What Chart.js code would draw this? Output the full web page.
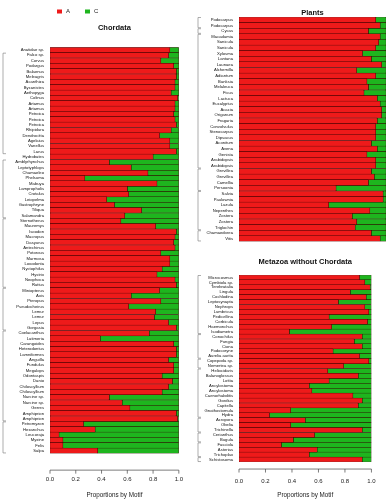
<!DOCTYPE html>
<html>
<head>
<meta charset="utf-8">
<script src="https://cdn.jsdelivr.net/npm/chart.js"></script>
<style>
  body { margin: 0; background: #fff; }
  #wrap { position: relative; width: 391px; height: 500px; overflow: hidden; }
  canvas { position: absolute; }
</style>
</head>
<body>
<div id="wrap">
  <canvas id="chordata" width="205" height="500" style="left:0;top:0;width:205px;height:500px"></canvas>
  <canvas id="plants" width="196" height="250" style="left:195px;top:0;width:196px;height:250px"></canvas>
  <canvas id="metazoa" width="196" height="250" style="left:195px;top:250px;width:196px;height:250px"></canvas>
</div>
<script>
// ---- data ----
var seriesNames = ["A", "C"];

var chordataLabels = ["Anatidae sp.", "Falco sp.", "Corvus", "Podargus", "Balaenus", "Meleagris", "Acanthiza", "Bycanistes",
  "Aethopyga", "Colinus", "Artamus", "Artamus", "Petroica", "Petroica", "Petroica", "Rhipidura", "Dendrocitta", "Agelaius",
  "Vanellus", "Larus", "Hydrobates", "Amblyrhynchus", "Leptotyphlops", "Chamaeleo", "Phelsuma", "Mabuya", "Lampropholis",
  "Crotalus", "Leiopelma", "Gastrophryne", "Tiliqua", "Salamandra", "Sternotherus", "Mauremys", "Isoodon", "Macropus",
  "Dasyurus", "Antechinus", "Potorous", "Marmosa", "Loxodonta", "Nyctophilus", "Hystrix", "Neophoca", "Rattus",
  "Miniopterus", "Axis", "Pteropus", "Pseudocheirus", "Lemur", "Lemur", "Lepus", "Gorgasia", "Coelacanthus", "Latimeria",
  "Carangoides", "Heterodontus", "Lamniformes", "Anguilla", "Fundulus", "Megalops", "Odontaspis", "Danio",
  "Chiloscyllium", "Chiloscyllium", "Narcine sp.", "Narcine sp.", "Gerres", "Amphiprion", "Amphiprion", "Petromyzon",
  "Hexanchus", "Leucoraja", "Myxine", "Felis", "Salpa"];
var chordataA = [0.93, 0.92, 0.86, 0.96, 0.98, 0.98, 0.97, 0.97, 0.94, 0.99, 0.97, 0.97, 0.96, 0.97, 0.98, 0.94, 0.85, 0.93,
  0.93, 0.98, 0.80, 0.46, 0.63, 0.76, 0.27, 0.83, 0.60, 0.61, 0.44, 0.50, 0.71, 0.58, 0.55, 0.82, 0.98, 0.97, 0.96, 0.97,
  0.86, 0.93, 0.93, 0.87, 0.83, 0.97, 0.98, 0.85, 0.63, 0.86, 0.61, 0.82, 0.81, 0.92, 0.98, 0.77, 0.39, 0.96, 0.98, 0.98,
  0.92, 0.96, 0.96, 0.87, 0.95, 0.92, 0.87, 0.46, 0.56, 0.62, 0.98, 0.99, 0.26, 0.35, 0.07, 0.10, 0.10, 0.37];
var chordataC = [0.07, 0.08, 0.14, 0.04, 0.02, 0.02, 0.03, 0.03, 0.06, 0.01, 0.03, 0.03, 0.04, 0.03, 0.02, 0.06, 0.15, 0.07,
  0.07, 0.02, 0.20, 0.54, 0.37, 0.24, 0.73, 0.17, 0.40, 0.39, 0.56, 0.50, 0.29, 0.42, 0.45, 0.18, 0.02, 0.03, 0.04, 0.03,
  0.14, 0.07, 0.07, 0.13, 0.17, 0.03, 0.02, 0.15, 0.37, 0.14, 0.39, 0.18, 0.19, 0.08, 0.02, 0.23, 0.61, 0.04, 0.02, 0.02,
  0.08, 0.04, 0.04, 0.13, 0.05, 0.08, 0.13, 0.54, 0.44, 0.38, 0.02, 0.01, 0.74, 0.65, 0.93, 0.90, 0.90, 0.63];
var chordataGroups = [[1, 19], [21, 31], [32, 44], [45, 52], [53, 69], [70, 75]];

var plantsLabels = ["Podocarpus", "Podocarpus", "Cycas", "Macadamia", "Sanicula", "Sanicula", "Xylosma", "Lantana",
  "Launaea", "Alchemilla", "Adiantum", "Banksia", "Melaleuca", "Ficus", "Lactuca", "Eucalyptus", "Acacia", "Origanum",
  "Fragaria", "Convolvulus", "Stenocarpus", "Dipsacus", "Aconitum", "Avena", "Genista", "Arabidopsis", "Arabidopsis",
  "Grevillea", "Grevillea", "Camellia", "Persoonia", "Salvia", "Paulownia", "Luzula", "Nepenthes", "Zostera", "Zostera",
  "Triglochin", "Chamaedorea", "Vitis"];
var plantsA = [0.93, 0.96, 0.88, 0.96, 0.95, 0.93, 0.84, 0.90, 0.97, 0.80, 0.93, 0.87, 0.88, 0.85, 0.94, 0.96, 0.97, 0.97,
  0.94, 0.93, 0.93, 0.93, 0.90, 0.94, 0.87, 0.93, 0.93, 0.90, 0.92, 0.88, 0.66, 0.98, 0.98, 0.61, 0.89, 0.77, 0.80, 0.79,
  0.90, 0.96];
var plantsC = [0.07, 0.04, 0.12, 0.04, 0.05, 0.07, 0.16, 0.10, 0.03, 0.20, 0.07, 0.13, 0.12, 0.15, 0.06, 0.04, 0.03, 0.03,
  0.06, 0.07, 0.07, 0.07, 0.10, 0.06, 0.13, 0.07, 0.07, 0.10, 0.08, 0.12, 0.34, 0.02, 0.02, 0.39, 0.11, 0.23, 0.20, 0.21,
  0.10, 0.04];
var plantsGroups = [[0, 1], [2, 2], [3, 26], [27, 30], [31, 37], [38, 39]];

var metazoaLabels = ["Microcosmus", "Cymbiola sp.", "Terebratalia", "Lingula", "Cochlodina", "Leptosynapta", "Nephrops",
  "Lumbricus", "Pedicellina", "Corbicula", "Haemonchus", "Isodiametra", "Conochilus", "Fungia", "Ciona", "Podocoryne",
  "Aurelia aurita", "Copepoda sp.", "Nemertea sp.", "Heliocidaris", "Balanoglossus", "Lottia", "Ancylostoma",
  "Ancylostoma", "Caenorhabditis", "Gordius", "Capitella", "Gnathostomula", "Hydra", "Acropora", "Obelia",
  "Trichinella", "Cerianthus", "Bugula", "Fasciola", "Asterias", "Trichoplax", "Schistosoma"];
var metazoaA = [0.91, 0.95, 0.99, 0.84, 0.96, 0.75, 0.95, 0.98, 0.68, 0.97, 0.70, 0.38, 0.93, 0.87, 0.93, 0.71, 0.91, 0.98,
  0.79, 0.67, 0.90, 0.68, 0.53, 0.55, 0.86, 0.93, 0.90, 0.39, 0.23, 0.50, 0.39, 0.93, 0.57, 0.41, 0.32, 0.59, 0.53, 0.93];
var metazoaC = [0.09, 0.05, 0.01, 0.16, 0.04, 0.25, 0.05, 0.02, 0.32, 0.03, 0.30, 0.62, 0.07, 0.13, 0.07, 0.29, 0.09, 0.02,
  0.21, 0.33, 0.10, 0.32, 0.47, 0.45, 0.14, 0.07, 0.10, 0.61, 0.77, 0.50, 0.61, 0.07, 0.43, 0.59, 0.68, 0.41, 0.47, 0.07];
var metazoaGroups = [[0, 11], [12, 16], [17, 18], [19, 28], [29, 31], [32, 33], [34, 36], [37, 37]];

var xTicks = [0, 0.2, 0.4, 0.6, 0.8, 1.0];

var RED = '#EE1A1A', GREEN = '#1EB51E';
var FONT = '"Liberation Sans", Arial, Helvetica, sans-serif';
Chart.defaults.font.family = FONT;

// R style axis line, drawn a little below the bars
var rAxis = {
  id: 'rAxis',
  afterDraw: function(chart, args, o) {
    if (!o.gap) return;
    var ctx = chart.ctx, x = chart.scales.x;
    var y = chart.chartArea.bottom + o.gap;
    ctx.save();
    ctx.strokeStyle = '#444';
    ctx.lineWidth = 0.7;
    ctx.beginPath();
    ctx.moveTo(x.getPixelForValue(xTicks[0]), y);
    ctx.lineTo(x.getPixelForValue(xTicks[xTicks.length - 1]), y);
    xTicks.forEach(function(v) {
      var px = x.getPixelForValue(v);
      ctx.moveTo(px, y);
      ctx.lineTo(px, y + 3.5);
    });
    ctx.stroke();
    ctx.restore();
  }
};

// little group brackets at the left edge
var brackets = {
  id: 'brackets',
  afterDraw: function(chart, args, o) {
    if (!o.groups) return;
    var ctx = chart.ctx, y = chart.scales.y;
    var half = y.height / chart.data.labels.length / 2;
    ctx.save();
    ctx.strokeStyle = '#777';
    ctx.lineWidth = 0.6;
    ctx.beginPath();
    o.groups.forEach(function(g) {
      var t = y.getPixelForValue(g[0]) - half + 0.5;
      var b = y.getPixelForValue(g[1]) + half - 0.5;
      ctx.moveTo(o.x + 3, t);
      ctx.lineTo(o.x, t);
      ctx.lineTo(o.x, b);
      ctx.lineTo(o.x + 3, b);
    });
    ctx.stroke();
    ctx.restore();
  }
};

// R style legend in the top left corner
var rLegend = {
  id: 'rLegend',
  afterDraw: function(chart, args, o) {
    if (!o.show) return;
    var ctx = chart.ctx;
    ctx.save();
    ctx.font = '6px ' + FONT;
    ctx.textBaseline = 'middle';
    chart.data.datasets.forEach(function(ds, i) {
      var x = o.x + i * o.step;
      ctx.fillStyle = ds.backgroundColor;
      ctx.fillRect(x, o.y - 2, 5, 4);
      ctx.fillStyle = '#222';
      ctx.fillText(ds.label, x + 9, o.y);
    });
    ctx.restore();
  }
};

function makeChart(id, p) {
  return new Chart(document.getElementById(id), {
    type: 'bar',
    data: {
      labels: p.labels,
      datasets: [
        { label: seriesNames[0], data: p.a, backgroundColor: RED },
        { label: seriesNames[1], data: p.c, backgroundColor: GREEN }
      ]
    },
    options: {
      indexAxis: 'y',
      responsive: false,
      animation: false,
      layout: { padding: p.padding },
      datasets: {
        bar: { barPercentage: 1, categoryPercentage: 1, borderWidth: 0.5, borderColor: '#300', borderSkipped: false }
      },
      scales: {
        x: {
          stacked: true, min: 0, max: 1,
          display: p.xAxis,
          grid: { display: false, drawTicks: false },
          border: { display: false },
          afterBuildTicks: function(s) { s.ticks = xTicks.map(function(v) { return { value: v }; }); },
          ticks: { padding: p.tickPad, font: { size: 6 }, color: '#222',
                   callback: function(v) { return Number(v).toFixed(1); } },
          // tick padding is reserved twice by Chart.js, so the title eats the extra with a negative top padding
          title: { display: true, text: 'Proportions by Motif', font: { size: 6.3 }, color: '#222',
                   padding: { top: p.axisTitlePad, bottom: 0 } }
        },
        y: {
          stacked: true,
          grid: { display: false, drawTicks: false },
          border: { display: false },
          ticks: { autoSkip: false, font: { size: 4.2 }, color: '#111', padding: 6 },
          afterFit: function(s) { s.width = p.yWidth; }
        }
      },
      plugins: {
        legend: { display: false },
        tooltip: { enabled: false },
        title: {
          display: true, text: p.title, fullSize: false, color: '#111',
          font: { size: 7.5, weight: 'bold', lineHeight: p.titleLH },
          padding: { top: 0, bottom: p.titleGap }
        },
        rAxis: { gap: p.axisGap },
        brackets: { groups: p.groups, x: 3 },
        rLegend: { show: p.legend, x: 57, y: 11.5, step: 28 }
      }
    },
    plugins: [rAxis, brackets, rLegend]
  });
}

makeChart('chordata', {
  title: 'Chordata', labels: chordataLabels, a: chordataA, c: chordataC, groups: chordataGroups,
  padding: { top: 23.5, left: 0, right: 13, bottom: 0.7 },
  titleLH: 1.2, titleGap: 14.8, xAxis: true, tickPad: 22, axisTitlePad: -12.9, axisGap: 16.7, yWidth: 50, legend: true
});

makeChart('plants', {
  title: 'Plants', labels: plantsLabels, a: plantsA, c: plantsC, groups: plantsGroups,
  padding: { top: 9.5, left: 0, right: 5, bottom: 6 },
  titleLH: 1, titleGap: 0, xAxis: false, tickPad: 0, axisTitlePad: 0, axisGap: 0, yWidth: 44, legend: false
});

makeChart('metazoa', {
  title: 'Metazoa without Chordata', labels: metazoaLabels, a: metazoaA, c: metazoaC, groups: metazoaGroups,
  padding: { top: 7.5, left: 0, right: 5, bottom: 1.2 },
  titleLH: 1.2, titleGap: 8.5, xAxis: true, tickPad: 15.4, axisTitlePad: -8.8, axisGap: 7, yWidth: 44, legend: false
});
</script>
</body>
</html>
